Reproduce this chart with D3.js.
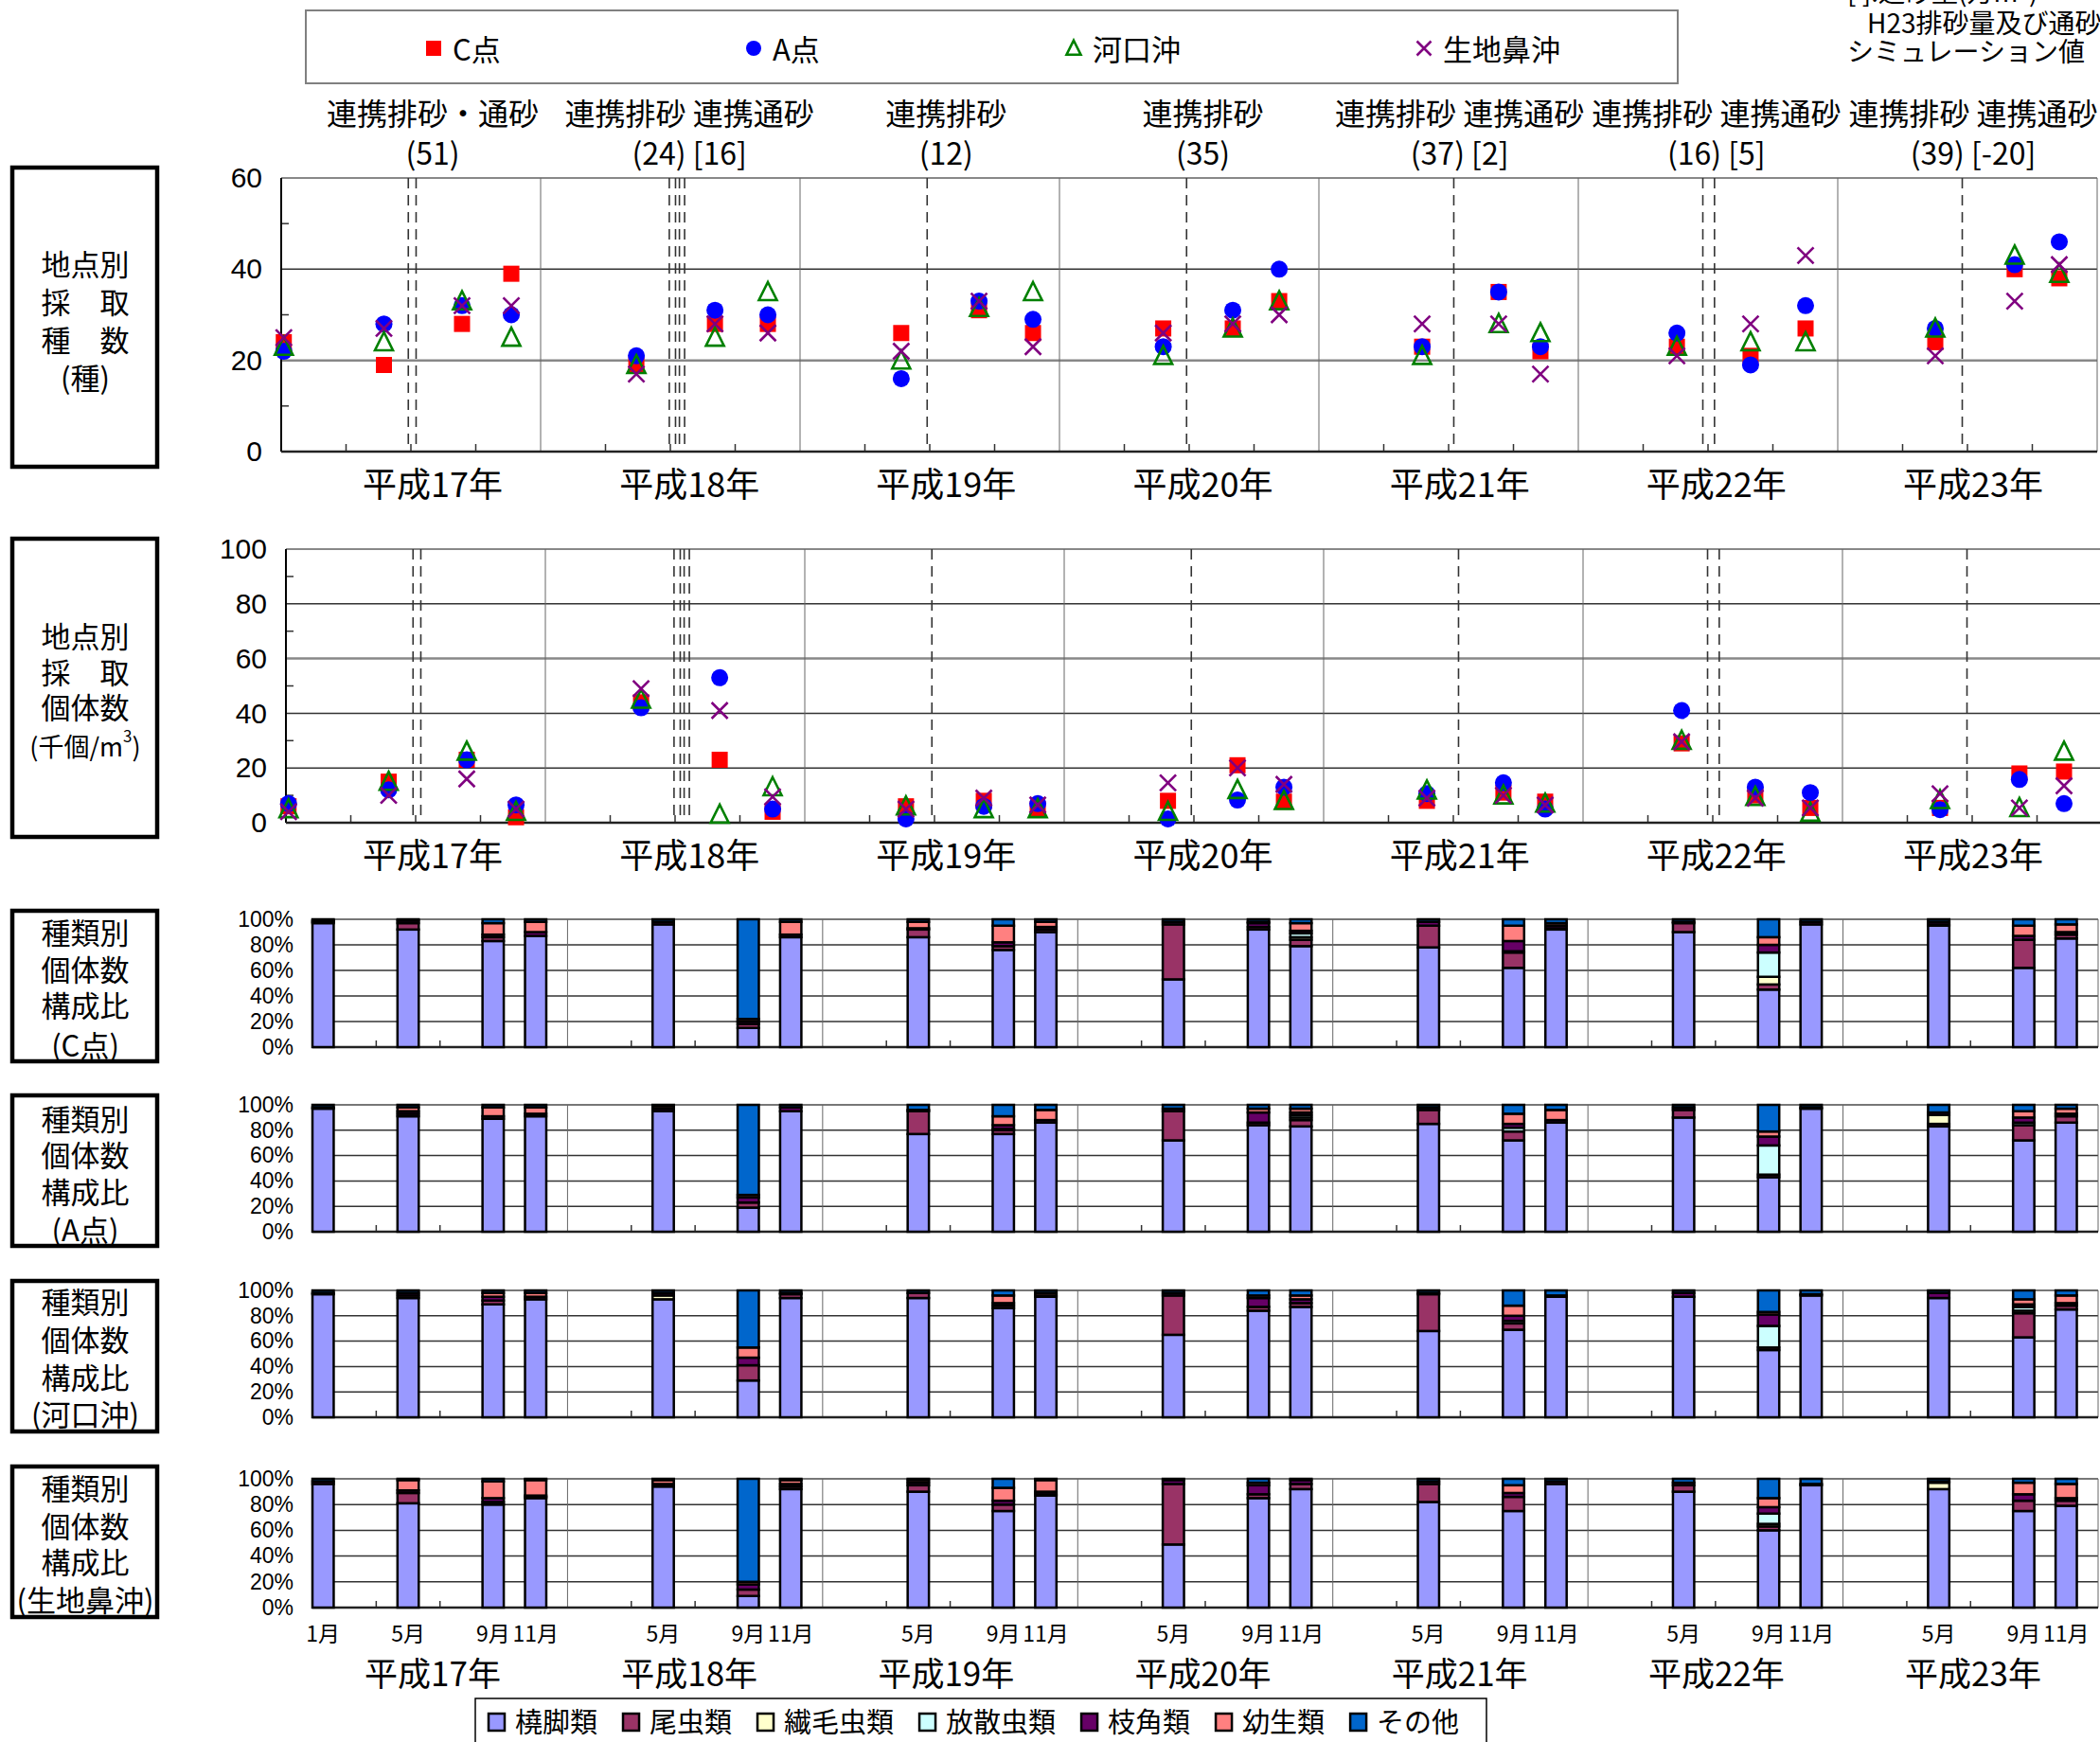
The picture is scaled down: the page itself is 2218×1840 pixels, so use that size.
<!DOCTYPE html>
<html lang="ja">
<head>
    <meta charset="utf-8" />
    <title>地点別採取種数・個体数と種類別構成比</title>
    <script src="https://cdnjs.cloudflare.com/ajax/libs/d3/7.8.5/d3.min.js"></script>
    <style>
        body { margin: 0; background: #fff; }
        svg text { font-family: "Noto Sans CJK JP", "Noto Sans", sans-serif; fill: #000; }
        svg .num text { font-family: "Liberation Sans", Arial, sans-serif; }
    </style>
</head>
<body>
<div id="chart"></div>
<script>
    // ---- data ----
    const years = ["平成17年", "平成18年", "平成19年", "平成20年", "平成21年", "平成22年", "平成23年"];
    const eventTitles = ["連携排砂・通砂", "連携排砂 連携通砂", "連携排砂", "連携排砂", "連携排砂 連携通砂", "連携排砂 連携通砂", "連携排砂 連携通砂"];
    const eventVolumes = ["(51)", "(24) [16]", "(12)", "(35)", "(37) [2]", "(16) [5]", "(39) [-20]"];
    // flushing dates, in years after 1 Jan H17
    const flushTimes = [0.49, 0.52, 1.496, 1.52, 1.535, 1.555, 2.49, 3.49, 4.52, 5.48, 5.525, 6.48];

    // sampling: year index, month, and actual date (years after 1 Jan H17)
    const sampleYear = [0, 0, 0, 0, 1, 1, 1, 2, 2, 2, 3, 3, 3, 4, 4, 4, 5, 5, 5, 6, 6, 6];
    const sampleMonth = [1, 5, 9, 11, 5, 9, 11, 5, 9, 11, 5, 9, 11, 5, 9, 11, 5, 9, 11, 5, 9, 11];
    const sampleTime = [0.01, 0.396, 0.697, 0.887, 1.369, 1.672, 1.876, 2.39, 2.69, 2.898,
        3.40, 3.668, 3.847, 4.398, 4.693, 4.854, 5.38, 5.664, 5.876, 6.376, 6.682, 6.854];

    // species count (種)
    const speciesC = [24, 19, 28, 39, 19, 28, 28, 26, 31, 26, 27, 27, 33, 23, 35, 22, 23, 21, 27, 24, 40, 38];
    const speciesA = [22, 28, 32, 30, 21, 31, 30, 16, 33, 29, 23, 31, 40, 23, 35, 23, 26, 19, 32, 27, 41, 46];
    const speciesKako = [23, 24, 33, 25, 19, 25, 35, 20, 31.5, 35, 21, 27, 33, 21, 28, 26, 23, 24, 24, 27, 43, 39];
    const speciesIkuji = [25, 27, 32, 32, 17, 28, 26, 22, 33, 23, 26, 28, 30, 28, 28, 17, 21, 28, 43, 21, 33, 41];

    // individuals (千個/m3)
    const indivC = [6, 15, 23, 2, 44, 23, 4, 6, 8, 5, 8, 21, 7.7, 8, 11, 7.7, 29, 10, 5.4, 5.4, 18, 18.7];
    const indivA = [7, 12, 23, 6.5, 42, 53, 5, 1.4, 6, 7, 1.4, 8.3, 13, 10.6, 14.6, 5, 41, 13, 11, 4.8, 15.8, 7];
    const indivKako = [5, 15, 26, 4, 45, 3, 13, 6, 5, 5, 4, 12, 8, 11.8, 10, 7, 30, 9.5, 3.7, 8.3, 5.4, 26];
    const indivIkuji = [4, 10, 16, 5, 49, 41, 9.5, 5, 9, 6.5, 14.6, 20, 14, 9, 10, 6.5, 29.6, 9, 5.4, 10.6, 5.4, 13.5];

    const groups = ["橈脚類", "尾虫類", "繊毛虫類", "放散虫類", "枝角類", "幼生類", "その他"];
    const groupColors = ["#9999FF", "#993366", "#FFFFCC", "#CCFFFF", "#660066", "#FF8080", "#0066CC"];

    // composition (%) per sample, columns in the order of groups
    const compC = [
        [97, 0, 0, 0, 1, 1, 1], [92, 5, 0, 0, 2, 1, 0], [83, 3, 0, 0, 2, 9, 3], [87, 0, 0, 0, 3, 8, 2],
        [96, 0, 0, 0, 2, 0, 2], [15, 3, 0, 0, 2, 2, 78], [86, 0, 0, 0, 2, 10, 2],
        [86, 6, 0, 0, 1, 5, 2], [76, 3, 0, 0, 3, 13, 5], [90, 2, 0, 0, 2, 4, 2],
        [53, 43, 0, 0, 2, 0, 2], [92, 2, 0, 0, 3, 1, 2], [79, 5, 2, 3, 2, 6, 3],
        [78, 17, 0, 0, 3, 0, 2], [62, 12, 0, 1, 8, 12, 5], [92, 1, 0, 0, 2, 2, 3],
        [90, 7, 0, 0, 1, 0, 2], [45, 4, 6, 19, 6, 6, 14], [96, 0, 0, 0, 2, 0, 2],
        [95, 1, 0, 0, 2, 0, 2], [62, 22, 0, 0, 3, 8, 5], [85, 3, 0, 0, 2, 6, 4]
    ];
    const compA = [
        [97, 0, 0, 0, 1, 0, 2], [91, 2, 0, 0, 2, 3, 2], [89, 0, 0, 0, 2, 7, 2], [91, 0, 0, 0, 2, 5, 2],
        [95, 0, 0, 0, 2, 2, 1], [19, 4, 0, 0, 4, 2, 71], [95, 0, 0, 0, 3, 0, 2],
        [77, 18, 0, 0, 1, 0, 4], [77, 3, 1, 0, 3, 7, 9], [86, 0, 0, 0, 2, 8, 4],
        [72, 23, 0, 0, 2, 0, 3], [84, 2, 0, 0, 8, 3, 3], [83, 5, 2, 2, 2, 3, 3],
        [85, 11, 0, 0, 2, 0, 2], [72, 7, 0, 3, 3, 8, 7], [86, 0, 0, 0, 2, 8, 4],
        [90, 6, 0, 0, 2, 0, 2], [43, 2, 0, 23, 7, 4, 21], [97, 0, 0, 0, 1, 0, 2],
        [83, 2, 7, 0, 2, 0, 6], [72, 12, 0, 2, 4, 5, 5], [86, 5, 0, 0, 2, 4, 3]
    ];
    const compKako = [
        [97, 0, 0, 0, 1, 0, 2], [94, 2, 0, 0, 2, 0, 2], [89, 3, 0, 0, 3, 3, 2], [93, 0, 0, 0, 2, 3, 2],
        [93, 0, 3, 0, 2, 0, 2], [29, 12, 0, 0, 6, 8, 45], [94, 3, 0, 0, 1, 0, 2],
        [94, 4, 0, 0, 0, 0, 2], [86, 2, 0, 0, 2, 6, 4], [95, 0, 0, 0, 1, 2, 2],
        [65, 31, 0, 0, 2, 0, 2], [84, 3, 0, 0, 7, 2, 4], [87, 3, 0, 0, 3, 3, 4],
        [68, 29, 0, 0, 1, 0, 2], [69, 5, 0, 2, 4, 8, 12], [95, 0, 0, 0, 1, 0, 4],
        [95, 0, 0, 0, 3, 0, 2], [53, 2, 0, 17, 9, 2, 17], [96, 0, 0, 0, 1, 0, 3],
        [94, 0, 0, 0, 4, 0, 2], [63, 19, 2, 3, 2, 4, 7], [85, 3, 0, 0, 2, 6, 4]
    ];
    const compIkuji = [
        [96, 0, 0, 0, 2, 0, 2], [81, 8, 0, 0, 2, 8, 1], [80, 2, 0, 0, 3, 13, 2], [85, 1, 0, 0, 1, 12, 1],
        [94, 0, 0, 0, 2, 3, 1], [9, 5, 0, 0, 4, 2, 80], [92, 2, 0, 0, 2, 3, 1],
        [90, 5, 0, 0, 2, 2, 1], [75, 5, 0, 0, 3, 10, 7], [87, 1, 0, 0, 2, 9, 1],
        [49, 47, 0, 0, 3, 0, 1], [85, 3, 0, 0, 7, 2, 3], [92, 4, 0, 0, 3, 0, 1],
        [82, 14, 0, 0, 2, 0, 2], [75, 11, 0, 0, 3, 6, 5], [96, 0, 0, 0, 2, 0, 2],
        [90, 5, 0, 0, 2, 0, 3], [60, 3, 2, 8, 5, 7, 15], [95, 0, 0, 0, 1, 0, 4],
        [92, 0, 5, 0, 1, 0, 2], [75, 8, 0, 0, 5, 9, 3], [79, 4, 0, 0, 2, 11, 4]
    ];

    // ---- drawing ----
    const width = 2218;
    const height = 1840;

    const svg = d3.select("#chart")
        .append("svg")
        .attr("width", width)
        .attr("height", height);

    // text columns (headers, year captions) sit on their own grid
    const xText = d3.scaleLinear().domain([0, 6]).range([457, 2084]);

    const markerDefs = [
        {name: "C点", kind: "square", color: "#FF0000"},
        {name: "A点", kind: "circle", color: "#0000FF"},
        {name: "河口沖", kind: "triangle", color: "#008000"},
        {name: "生地鼻沖", kind: "cross", color: "#800080"}
    ];

    function markerPath(kind, s) {
        if (kind === "square") return `M${-s / 2},${-s / 2}h${s}v${s}h${-s}Z`;
        if (kind === "circle") return d3.symbol(d3.symbolCircle, Math.PI * s * s / 4)();
        if (kind === "triangle") return `M0,${-s * 0.55}L${s * 0.5},${s * 0.45}L${-s * 0.5},${s * 0.45}Z`;
        return `M${-s / 2},${-s / 2}L${s / 2},${s / 2}M${s / 2},${-s / 2}L${-s / 2},${s / 2}`;
    }

    function styleMarker(sel, m) {
        if (m.kind === "square" || m.kind === "circle") {
            sel.attr("fill", m.color).attr("stroke", "none");
        } else {
            sel.attr("fill", "none").attr("stroke", m.color).attr("stroke-width", 2.6);
        }
    }

    // top legend
    svg.append("rect")
        .attr("x", 323).attr("y", 11).attr("width", 1449).attr("height", 77)
        .attr("fill", "#fff").attr("stroke", "#808080").attr("stroke-width", 2);
    const legendX = [458, 796, 1134, 1504];
    markerDefs.forEach((m, i) => {
        const s = m.kind === "cross" ? 15 : (m.kind === "triangle" ? 15 : 16);
        svg.append("path")
            .attr("d", markerPath(m.kind, s))
            .attr("transform", `translate(${legendX[i]},51)`)
            .call(styleMarker, m);
        svg.append("text")
            .attr("x", legendX[i] + 20).attr("y", 50)
            .attr("dominant-baseline", "central")
            .attr("font-size", 31)
            .text(m.name);
    });

    // note at top right (runs off the page, as in the original)
    const noteLines = ["[ ]:通砂量(万m³)", "H23排砂量及び通砂量は", "シミュレーション値"];
    const noteX = [1951, 1972, 1951];
    const noteY = [-10, 23, 53];
    noteLines.forEach((t, i) => {
        svg.append("text").attr("x", noteX[i]).attr("y", noteY[i])
            .attr("dominant-baseline", "central").attr("font-size", 28).text(t);
    });

    // event headers
    svg.selectAll(".evt-title").data(eventTitles).join("text")
        .attr("class", "evt-title")
        .attr("x", (d, i) => xText(i)).attr("y", 118)
        .attr("text-anchor", "middle").attr("dominant-baseline", "central")
        .attr("font-size", 32)
        .text(d => d);
    svg.selectAll(".evt-vol").data(eventVolumes).join("text")
        .attr("class", "evt-vol")
        .attr("x", (d, i) => xText(i)).attr("y", 160)
        .attr("text-anchor", "middle").attr("dominant-baseline", "central")
        .attr("font-size", 32)
        .text(d => d);

    function drawBox(y0, y1, lines, ys) {
        svg.append("rect")
            .attr("x", 13).attr("y", y0).attr("width", 153).attr("height", y1 - y0)
            .attr("fill", "none").attr("stroke", "#000").attr("stroke-width", 4.5);
        lines.forEach((t, i) => {
            const txt = svg.append("text")
                .attr("x", 90).attr("y", ys[i])
                .attr("text-anchor", "middle").attr("dominant-baseline", "central")
                .attr("font-size", 31);
            if (Array.isArray(t)) {
                txt.attr("font-size", 27);
                txt.append("tspan").text(t[0]);
                txt.append("tspan").attr("font-size", 17).attr("dy", -11).text(t[1]);
                txt.append("tspan").attr("dy", 11).text(t[2]);
            } else {
                txt.text(t);
            }
        });
    }

    function styleAxis(g, size) {
        g.attr("font-family", null).attr("font-size", null).attr("class", "num");
        g.select(".domain").remove();
        g.selectAll("text").attr("font-size", size).attr("fill", "#000");
    }

    function scatterPanel(o) {
        const x = d3.scaleLinear().domain([0, 7]).range([o.left, o.left + 7 * 274]);
        const y = d3.scaleLinear().domain([0, o.max]).range([o.bottom, o.top]);
        const g = svg.append("g");

        g.selectAll(".grid").data(o.grid).join("line")
            .attr("x1", x(0)).attr("x2", x(7))
            .attr("y1", d => y(d)).attr("y2", d => y(d))
            .attr("stroke", d => (d === o.max || d === o.light) ? "#888" : "#333")
            .attr("stroke-width", d => d === o.light ? 2.5 : (d === o.max ? 2 : 1.5));

        g.selectAll(".yr").data(d3.range(1, 8)).join("line")
            .attr("x1", d => x(d)).attr("x2", d => x(d))
            .attr("y1", y(o.max)).attr("y2", y(0))
            .attr("stroke", "#666").attr("stroke-width", 1);

        g.selectAll(".flush").data(flushTimes).join("line")
            .attr("x1", d => x(d)).attr("x2", d => x(d))
            .attr("y1", y(o.max)).attr("y2", y(0))
            .attr("stroke", "#333").attr("stroke-width", 1.6)
            .attr("stroke-dasharray", "11,7");

        // minor ticks on the y axis
        g.selectAll(".ymin").data(o.minor).join("line")
            .attr("x1", x(0)).attr("x2", x(0) + 8)
            .attr("y1", d => y(d)).attr("y2", d => y(d))
            .attr("stroke", "#333").attr("stroke-width", 1.5);

        // quarter ticks on the x axis
        const qt = d3.range(0.25, 7, 0.25).filter(d => d % 1 !== 0);
        g.selectAll(".xmin").data(qt).join("line")
            .attr("x1", d => x(d)).attr("x2", d => x(d))
            .attr("y1", y(0)).attr("y2", y(0) - 8)
            .attr("stroke", "#333").attr("stroke-width", 1.5);

        g.append("line").attr("x1", x(0)).attr("x2", x(0)).attr("y1", y(o.max)).attr("y2", y(0))
            .attr("stroke", "#000").attr("stroke-width", 2);
        g.append("line").attr("x1", x(0)).attr("x2", x(7)).attr("y1", y(0)).attr("y2", y(0))
            .attr("stroke", "#222").attr("stroke-width", 2.5);

        g.append("g")
            .attr("transform", `translate(${x(0)},0)`)
            .call(d3.axisLeft(y).tickValues(o.ticks).tickSize(0).tickPadding(20))
            .call(styleAxis, 30);

        o.series.forEach((vals, k) => {
            const m = markerDefs[k];
            g.selectAll(".mk" + k).data(vals).join("path")
                .attr("d", markerPath(m.kind, m.kind === "circle" ? 18 : (m.kind === "triangle" ? 19 : 17)))
                .attr("transform", (d, i) => `translate(${x(sampleTime[i])},${y(d)})`)
                .call(styleMarker, m);
        });

        svg.selectAll(null).data(years).join("text")
            .attr("x", (d, i) => xText(i)).attr("y", o.labelY)
            .attr("text-anchor", "middle").attr("dominant-baseline", "central")
            .attr("font-size", 36)
            .text(d => d);
    }

    function barPanel(o) {
        const x = d3.scaleLinear().domain([0, 7]).range([330, 2216]);
        const y = d3.scaleLinear().domain([0, 1]).range([o.bottom, o.top]);
        const g = svg.append("g");

        g.selectAll(".grid").data([0.2, 0.4, 0.6, 0.8, 1]).join("line")
            .attr("x1", x(0)).attr("x2", x(7))
            .attr("y1", d => y(d)).attr("y2", d => y(d))
            .attr("stroke", d => d === 1 ? "#777" : "#333")
            .attr("stroke-width", d => d === 1 ? 2 : 1.5);

        g.selectAll(".yr").data(d3.range(1, 8)).join("line")
            .attr("x1", d => x(d)).attr("x2", d => x(d))
            .attr("y1", y(1)).attr("y2", y(0))
            .attr("stroke", "#666").attr("stroke-width", 1);

        g.selectAll(".ymin").data(d3.range(0.1, 1, 0.2)).join("line")
            .attr("x1", x(0)).attr("x2", x(0) + 8)
            .attr("y1", d => y(d)).attr("y2", d => y(d))
            .attr("stroke", "#333").attr("stroke-width", 1.5);

        const qt = d3.range(0.25, 7, 0.25).filter(d => d % 1 !== 0);
        g.selectAll(".xmin").data(qt).join("line")
            .attr("x1", d => x(d)).attr("x2", d => x(d))
            .attr("y1", y(0)).attr("y2", y(0) - 7)
            .attr("stroke", "#333").attr("stroke-width", 1.5);

        g.append("line").attr("x1", x(0)).attr("x2", x(0)).attr("y1", y(1)).attr("y2", y(0))
            .attr("stroke", "#000").attr("stroke-width", 2);
        g.append("line").attr("x1", x(0)).attr("x2", x(7)).attr("y1", y(0)).attr("y2", y(0))
            .attr("stroke", "#222").attr("stroke-width", 2.5);

        g.append("g")
            .attr("transform", `translate(${x(0)},0)`)
            .call(d3.axisLeft(y).tickValues([0, 0.2, 0.4, 0.6, 0.8, 1]).tickFormat(d3.format(".0%"))
                .tickSize(0).tickPadding(20))
            .call(styleAxis, 23);

        const rows = o.comp.map((v, i) => {
            const r = {t: sampleYear[i] + (sampleMonth[i] - 1) / 12};
            groups.forEach((name, k) => r[name] = v[k]);
            return r;
        });
        const series = d3.stack().keys(groups).offset(d3.stackOffsetExpand)(rows);
        const bw = x(1 / 12) - x(0);

        g.selectAll(".layer").data(series).join("g")
            .attr("fill", (d, i) => groupColors[i])
            .selectAll("rect")
            .data(d => d.filter(p => p[1] > p[0]))
            .join("rect")
            .attr("x", d => x(d.data.t))
            .attr("width", bw)
            .attr("y", d => y(d[1]))
            .attr("height", d => y(d[0]) - y(d[1]))
            .attr("stroke", "#000")
            .attr("stroke-width", 2.5);
        return x;
    }

    // panel 1: species count
    drawBox(177, 493, ["地点別", "採　取", "種　数", "(種)"], [277, 317, 357, 397]);
    scatterPanel({
        left: 297, top: 188, bottom: 477, max: 60, light: 20,
        ticks: [0, 20, 40, 60], grid: [20, 40, 60], minor: [10, 30, 50],
        series: [speciesC, speciesA, speciesKako, speciesIkuji],
        labelY: 509
    });

    // panel 2: individuals
    drawBox(569, 884, ["地点別", "採　取", "個体数", ["(千個/m", "3", ")"]], [670, 708, 745, 787]);
    scatterPanel({
        left: 302, top: 580, bottom: 869, max: 100, light: 60,
        ticks: [0, 20, 40, 60, 80, 100], grid: [20, 40, 60, 80, 100], minor: [10, 30, 50, 70, 90],
        series: [indivC, indivA, indivKako, indivIkuji],
        labelY: 901
    });

    // composition panels
    drawBox(962, 1121, ["種類別", "個体数", "構成比", "(C点)"], [983, 1022, 1060, 1102]);
    barPanel({top: 971, bottom: 1106, comp: compC});
    drawBox(1157, 1316, ["種類別", "個体数", "構成比", "(A点)"], [1180, 1218, 1257, 1297]);
    barPanel({top: 1167, bottom: 1301, comp: compA});
    drawBox(1353, 1512, ["種類別", "個体数", "構成比", "(河口沖)"], [1373, 1413, 1453, 1492]);
    barPanel({top: 1363, bottom: 1497, comp: compKako});
    drawBox(1549, 1708, ["種類別", "個体数", "構成比", "(生地鼻沖)"], [1570, 1610, 1648, 1688]);
    const xBar = barPanel({top: 1562, bottom: 1698, comp: compIkuji});

    // month labels and year captions under the last panel
    svg.selectAll(".month").data(sampleMonth).join("text")
        .attr("class", "month")
        .attr("x", (d, i) => xBar(sampleYear[i] + (d - 0.5) / 12))
        .attr("y", 1724)
        .attr("text-anchor", "middle").attr("dominant-baseline", "central")
        .attr("font-size", 23)
        .text(d => d + "月");
    svg.selectAll(".year-bottom").data(years).join("text")
        .attr("class", "year-bottom")
        .attr("x", (d, i) => xText(i)).attr("y", 1765)
        .attr("text-anchor", "middle").attr("dominant-baseline", "central")
        .attr("font-size", 35)
        .text(d => d);

    // bottom legend
    svg.append("rect")
        .attr("x", 502).attr("y", 1794).attr("width", 1068).attr("height", 70)
        .attr("fill", "#fff").attr("stroke", "#000").attr("stroke-width", 1.5);
    let lx = 516;
    groups.forEach((name, i) => {
        svg.append("rect")
            .attr("x", lx).attr("y", 1810).attr("width", 17).attr("height", 18)
            .attr("fill", groupColors[i]).attr("stroke", "#000").attr("stroke-width", 2.5);
        const t = svg.append("text")
            .attr("x", lx + 28).attr("y", 1817)
            .attr("dominant-baseline", "central")
            .attr("font-size", 29)
            .text(name);
        lx += 28 + t.node().getComputedTextLength() + 27;
    });
</script>
</body>
</html>
